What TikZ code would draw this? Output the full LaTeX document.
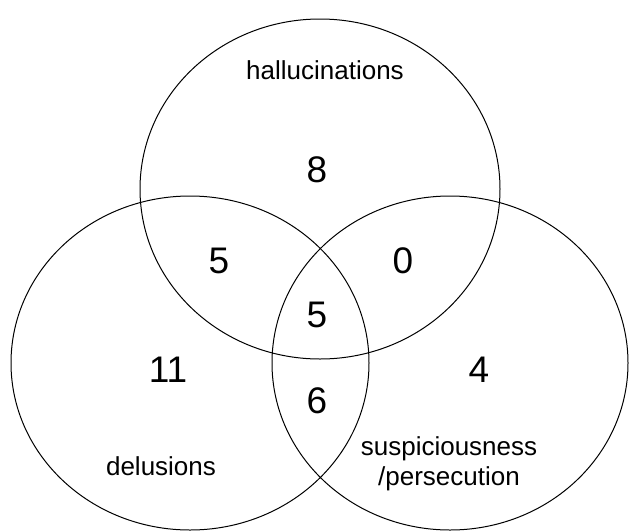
\documentclass[tikz,border=0pt]{standalone}
\usepackage{fontspec}
\setmainfont{Liberation Sans}
\usetikzlibrary{shapes.geometric}
\begin{document}
\begin{tikzpicture}[x=1pt,y=-1pt,
  setring/.style={draw=black,line width=1pt,ellipse,inner sep=0pt},
  label/.style={font=\fontsize{26}{30}\selectfont,anchor=base,inner sep=0pt,align=center},
  count/.style={font=\fontsize{37}{42}\selectfont,anchor=base,inner sep=0pt}]
\useasboundingbox (0,0) rectangle (629,531);
\node[setring,minimum width=360pt,minimum height=340pt] (hal) at (320,189) {};
\node[setring,minimum width=358pt,minimum height=334pt] (del) at (190,363) {};
\node[setring,minimum width=356pt,minimum height=334pt] (sus) at (450,363) {};
\node[label] (lhal) at (325,79) {hallucinations};
\node[label] (ldel) at (161,475) {delusions};
\node[label] (lsus1) at (449,455) {suspiciousness};
\node[label] (lsus2) at (449,485) {/persecution};
\node[count] (n8) at (317,182) {8};
\node[count] (n5a) at (219,273) {5};
\node[count] (n0) at (403,273) {0};
\node[count] (n5b) at (317,327) {5};
\node[count] (n11) at (168,382) {11};
\node[count] (n4) at (479,382) {4};
\node[count] (n6) at (317,413) {6};
\end{tikzpicture}
\end{document}
